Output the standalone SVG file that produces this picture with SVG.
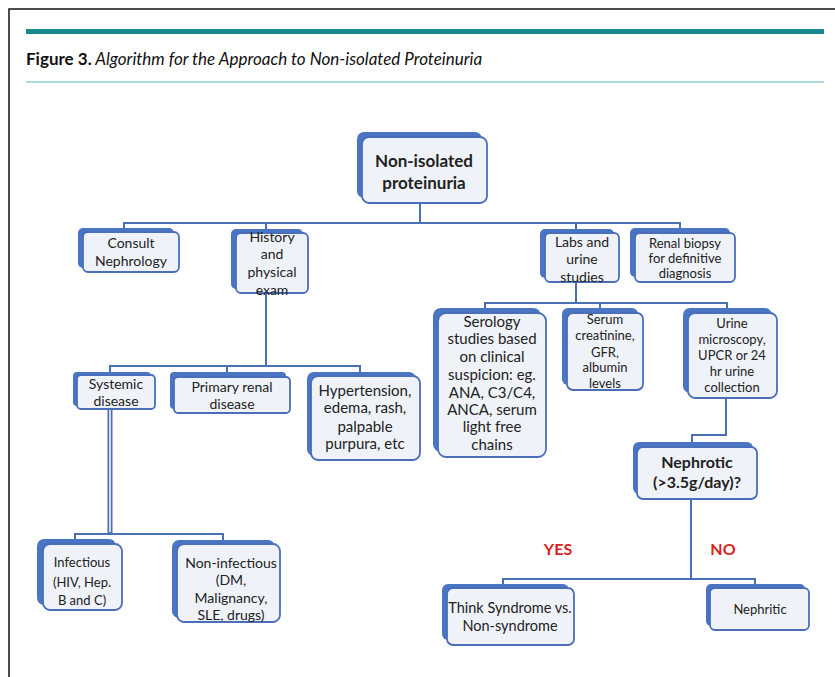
<svg xmlns="http://www.w3.org/2000/svg" width="835" height="677" viewBox="0 0 835 677">
<defs>
<style>
.sh{fill:#4a74c4}
.bx{fill:#eff2f9;stroke:#4a6fb8;stroke-width:1.8}
.t{font-family:Lato,"Liberation Sans",sans-serif;fill:#222;text-anchor:middle}
.c{fill:none;stroke:#4a6fb2;stroke-width:2}
.yn{font-family:Lato,"Liberation Sans",sans-serif;font-weight:bold;font-size:16px;fill:#d8231d;text-anchor:middle}
</style>
</defs>
<rect x="0" y="0" width="835" height="677" fill="#fff"/>
<path d="M9,677 V9 H835" fill="none" stroke="#111" stroke-width="1.5"/>
<rect x="26" y="29" width="798" height="5" fill="#17898d"/>
<line x1="26" y1="82" x2="824" y2="82" stroke="#5bb7b9" stroke-width="1"/>
<text x="26" y="65" font-family="Lato,'Liberation Sans',sans-serif" font-size="17" fill="#111"><tspan font-weight="bold">Figure 3.</tspan><tspan font-style="italic"> Algorithm for the Approach to Non-isolated Proteinuria</tspan></text>

<g id="connectors">
<path class="c" d="M420,203 V223"/>
<path class="c" d="M124,229 V223 H680 V229 M266,223 V229 M576,223 V229"/>
<path class="c" d="M266,293 V366"/>
<path class="c" d="M110,372 V366 H360 V372 M227,366 V372"/>
<path d="M110,409 V534" fill="none" stroke="#4a6fb2" stroke-width="5"/>
<path d="M110,409 V532" fill="none" stroke="#fff" stroke-width="1.5"/>
<path class="c" d="M75,540 V534 H223 V540"/>
<path class="c" d="M576,282 V303"/>
<path class="c" d="M485,308 V303 H727 V308 M600,303 V308"/>
<path class="c" d="M726,398 V435 H692 V442"/>
<path class="c" d="M691,499 V579"/>
<path class="c" d="M503,584 V579 H755 V584"/>
</g>

<g id="n-root">
<rect class="sh" x="357" y="132" width="125" height="66" rx="7"/>
<rect class="bx" x="362" y="137" width="125" height="66" rx="7"/>
<text class="t" font-size="17" font-weight="bold"><tspan x="424" y="167">Non-isolated</tspan><tspan x="424" y="189">proteinuria</tspan></text>
</g>

<g id="n-consult">
<rect class="sh" x="78" y="228" width="96" height="40" rx="5"/>
<rect class="bx" x="83" y="232" width="96" height="40" rx="5"/>
<text class="t" font-size="14"><tspan x="131" y="248">Consult</tspan><tspan x="131" y="266">Nephrology</tspan></text>
</g>

<g id="n-history">
<rect class="sh" x="231" y="229" width="72" height="60" rx="5"/>
<rect class="bx" x="236" y="233" width="72" height="60" rx="5"/>
<text class="t" font-size="14"><tspan x="272" y="242">History</tspan><tspan x="272" y="259">and</tspan><tspan x="272" y="277">physical</tspan><tspan x="272" y="295">exam</tspan></text>
</g>

<g id="n-labs">
<rect class="sh" x="540" y="229" width="74" height="49" rx="5"/>
<rect class="bx" x="545" y="233" width="74" height="49" rx="5"/>
<text class="t" font-size="14"><tspan x="582" y="247">Labs and</tspan><tspan x="582" y="264">urine</tspan><tspan x="582" y="282">studies</tspan></text>
</g>

<g id="n-biopsy">
<rect class="sh" x="630" y="228" width="100" height="49" rx="5"/>
<rect class="bx" x="635" y="233" width="100" height="49" rx="5"/>
<text class="t" font-size="13"><tspan x="685" y="248">Renal biopsy</tspan><tspan x="685" y="263">for definitive</tspan><tspan x="685" y="278">diagnosis</tspan></text>
</g>

<g id="n-systemic">
<rect class="sh" x="73" y="372" width="78" height="34" rx="4"/>
<rect class="bx" x="77" y="375" width="78" height="34" rx="4"/>
<text class="t" font-size="14"><tspan x="116" y="389">Systemic</tspan><tspan x="116" y="406">disease</tspan></text>
</g>

<g id="n-primary">
<rect class="sh" x="170" y="372" width="116" height="37" rx="4"/>
<rect class="bx" x="174" y="377" width="116" height="36" rx="4"/>
<text class="t" font-size="14"><tspan x="232" y="392">Primary renal</tspan><tspan x="232" y="409">disease</tspan></text>
</g>

<g id="n-signs">
<rect class="sh" x="307" y="372" width="109" height="84" rx="7"/>
<rect class="bx" x="311" y="376" width="109" height="84" rx="7"/>
<text class="t" font-size="15"><tspan x="365" y="396">Hypertension,</tspan><tspan x="365" y="413">edema, rash,</tspan><tspan x="365" y="432">palpable</tspan><tspan x="365" y="449">purpura, etc</tspan></text>
</g>

<g id="n-serology">
<rect class="sh" x="433" y="308" width="108" height="144" rx="8"/>
<rect class="bx" x="438" y="313" width="108" height="144" rx="8"/>
<text class="t" font-size="15"><tspan x="492" y="327">Serology</tspan><tspan x="492" y="344">studies based</tspan><tspan x="492" y="362">on clinical</tspan><tspan x="492" y="380">suspicion: eg.</tspan><tspan x="492" y="398">ANA, C3/C4,</tspan><tspan x="492" y="415">ANCA, serum</tspan><tspan x="492" y="432">light free</tspan><tspan x="492" y="450">chains</tspan></text>
</g>

<g id="n-serum">
<rect class="sh" x="562" y="308" width="76" height="77" rx="6"/>
<rect class="bx" x="567" y="313" width="76" height="77" rx="6"/>
<text class="t" font-size="13"><tspan x="605" y="324">Serum</tspan><tspan x="605" y="340">creatinine,</tspan><tspan x="605" y="357">GFR,</tspan><tspan x="605" y="372">albumin</tspan><tspan x="605" y="388">levels</tspan></text>
</g>

<g id="n-urine">
<rect class="sh" x="683" y="308" width="89" height="85" rx="7"/>
<rect class="bx" x="688" y="313" width="89" height="85" rx="7"/>
<text class="t" font-size="13"><tspan x="732" y="328">Urine</tspan><tspan x="732" y="344">microscopy,</tspan><tspan x="732" y="360">UPCR or 24</tspan><tspan x="732" y="376">hr urine</tspan><tspan x="732" y="392">collection</tspan></text>
</g>

<g id="n-nephrotic">
<rect class="sh" x="633" y="442" width="120" height="52" rx="6"/>
<rect class="bx" x="637" y="447" width="120" height="52" rx="6"/>
<text class="t" font-size="16" font-weight="bold"><tspan x="697" y="468">Nephrotic</tspan><tspan x="697" y="488">(&gt;3.5g/day)?</tspan></text>
</g>

<g id="n-infectious">
<rect class="sh" x="37" y="539" width="79" height="66" rx="7"/>
<rect class="bx" x="43" y="544" width="79" height="66" rx="7"/>
<text class="t" font-size="13"><tspan x="82" y="567">Infectious</tspan><tspan x="82" y="587">(HIV, Hep.</tspan><tspan x="82" y="605">B and C)</tspan></text>
</g>

<g id="n-noninfectious">
<rect class="sh" x="172" y="540" width="103" height="78" rx="7"/>
<rect class="bx" x="177" y="544" width="103" height="78" rx="7"/>
<text class="t" font-size="14"><tspan x="231" y="568">Non-infectious</tspan><tspan x="231" y="585">(DM,</tspan><tspan x="231" y="603">Malignancy,</tspan><tspan x="231" y="620">SLE, drugs)</tspan></text>
</g>

<text class="yn" x="558" y="555">YES</text>
<text class="yn" x="723" y="555">NO</text>

<g id="n-syndrome">
<rect class="sh" x="442" y="584" width="127" height="56" rx="6"/>
<rect class="bx" x="447" y="588" width="127" height="57" rx="6"/>
<text class="t" font-size="14.5"><tspan x="510" y="613">Think Syndrome vs.</tspan><tspan x="510" y="631">Non-syndrome</tspan></text>
</g>

<g id="n-nephritic">
<rect class="sh" x="706" y="584" width="99" height="42" rx="5"/>
<rect class="bx" x="710" y="588" width="99" height="42" rx="5"/>
<text class="t" font-size="13"><tspan x="760" y="614">Nephritic</tspan></text>
</g>
</svg>
